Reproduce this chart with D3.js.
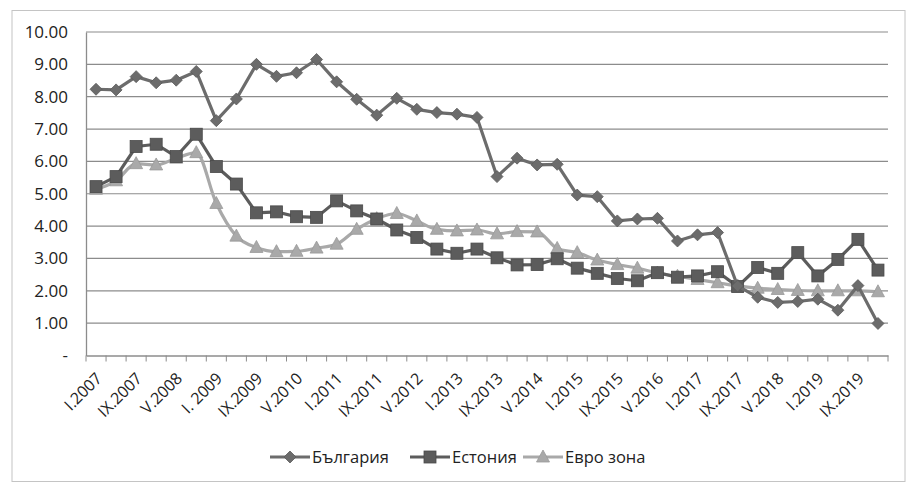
<!DOCTYPE html>
<html>
<head>
<meta charset="utf-8">
<script src="https://cdn.jsdelivr.net/npm/d3@7"></script>
<style>
  body { margin: 0; background: #fff; }
  text { font-family: "Open Sans", "Noto Sans", sans-serif; fill: #222; }
</style>
</head>
<body>
<div id="chart"></div>
<script>
// categories: every 4 months, I.2007 .. I.2020
var months = ["I", "V", "IX"];
var categories = [];
for (var yr = 2007; yr <= 2019; yr++) {
    months.forEach(function(m) { categories.push(m + "." + yr); });
}
categories.push("I.2020");

// the axis shows every second label, as in the original
var tickLabels = {"I.2009": "I. 2009"};

var bulgaria = [8.23, 8.21, 8.62, 8.43, 8.51, 8.78, 7.26, 7.93, 9.0, 8.63,
                8.74, 9.15, 8.46, 7.92, 7.43, 7.95, 7.61, 7.51, 7.46, 7.36,
                5.53, 6.1, 5.89, 5.91, 4.96, 4.91, 4.16, 4.22, 4.24, 3.54,
                3.73, 3.8, 2.15, 1.8, 1.64, 1.67, 1.74, 1.4, 2.16, 0.99];
var estonia = [5.22, 5.53, 6.46, 6.53, 6.15, 6.84, 5.84, 5.3, 4.41, 4.44,
               4.29, 4.27, 4.78, 4.47, 4.22, 3.88, 3.65, 3.29, 3.16, 3.29,
               3.02, 2.8, 2.81, 2.99, 2.7, 2.54, 2.38, 2.31, 2.56, 2.42,
               2.46, 2.59, 2.13, 2.72, 2.54, 3.18, 2.46, 2.97, 3.59, 2.64];
var eurozone = [5.14, 5.4, 5.93, 5.89, 6.1, 6.27, 4.7, 3.69, 3.34, 3.21,
                3.22, 3.32, 3.44, 3.9, 4.23, 4.39, 4.16, 3.9, 3.85, 3.88,
                3.76, 3.83, 3.82, 3.31, 3.18, 2.95, 2.81, 2.7, 2.55, 2.45,
                2.35, 2.25, 2.15, 2.08, 2.04, 2.01, 2.0, 2.0, 2.0, 1.97];
var yTicks = [0, 1, 2, 3, 4, 5, 6, 7, 8, 9, 10];

var series = [
    {name: "България", values: bulgaria, color: "#6c6c6c", marker: "diamond", smooth: false},
    {name: "Естония", values: estonia, color: "#5c5c5c", marker: "square", smooth: false},
    {name: "Евро зона", values: eurozone, color: "#a9a9a9", marker: "triangle", smooth: true}
];

var width = 909, height = 484;
var plotLeft = 86, plotRight = 888, plotTop = 32, plotBottom = 355.5;

var svg = d3.select("#chart").append("svg")
    .attr("width", width)
    .attr("height", height);

svg.append("rect")
    .attr("x", 12).attr("y", 10.5)
    .attr("width", 893).attr("height", 471)
    .attr("fill", "#fff")
    .attr("stroke", "#c4c4c4");

var x = d3.scaleBand().domain(categories).range([plotLeft, plotRight]);
var yScale = d3.scaleLinear().domain([0, 10]).range([plotBottom, plotTop]);
var cx = function(i) { return x(categories[i]) + x.bandwidth() / 2; };

// gridlines
svg.append("g").selectAll("line")
    .data(yTicks.slice(1))
    .enter().append("line")
    .attr("x1", plotLeft).attr("x2", plotRight)
    .attr("y1", function(d) { return yScale(d); })
    .attr("y2", function(d) { return yScale(d); })
    .attr("stroke", "#8c8c8c")
    .attr("stroke-width", 1.2);

// y axis
var yAxis = svg.append("g")
    .attr("transform", "translate(" + plotLeft + ",0)")
    .call(d3.axisLeft(yScale).tickValues(yTicks).tickSize(0).tickPadding(18)
        .tickFormat(function(d) { return d === 0 ? "-" : d3.format(".2f")(d); }));
yAxis.select(".domain").attr("stroke", "#8c8c8c").attr("stroke-width", 1.3);
yAxis.selectAll("text").style("font-size", "17px").attr("fill", "#222");

// x axis
var xAxis = svg.append("g")
    .attr("transform", "translate(0," + plotBottom + ")")
    .call(d3.axisBottom(x).tickSize(0).tickFormat(""));
xAxis.select(".domain").attr("stroke", "#8c8c8c").attr("stroke-width", 1.3);
xAxis.selectAll(".tick").remove();

// tick marks between categories
var boundaries = categories.map(function(c) { return x(c); }).concat([plotRight]);
svg.append("g").selectAll("line")
    .data(boundaries)
    .enter().append("line")
    .attr("x1", function(d) { return d; })
    .attr("x2", function(d) { return d; })
    .attr("y1", plotBottom).attr("y2", plotBottom + 6)
    .attr("stroke", "#8c8c8c");

svg.append("g").selectAll("text")
    .data(categories.filter(function(c, i) { return i % 2 === 0; }))
    .enter().append("text")
    .attr("transform", function(d) {
        return "translate(" + (x(d) + x.bandwidth() / 2 + 3) + "," + (plotBottom + 20) + ") rotate(-45)";
    })
    .attr("text-anchor", "end")
    .attr("dy", "0.35em")
    .style("font-size", "16px")
    .text(function(d) { return tickLabels[d] || d; });

// markers
function drawMarker(g, type, color, px, py) {
    if (type === "diamond") {
        g.append("path")
            .attr("d", "M" + px + "," + (py - 6) + "L" + (px + 6) + "," + py + "L" + px + "," + (py + 6) + "L" + (px - 6) + "," + py + "Z")
            .attr("fill", color).attr("stroke", "#5a5a5a").attr("stroke-width", 0.8);
    } else if (type === "square") {
        g.append("rect")
            .attr("x", px - 6).attr("y", py - 6)
            .attr("width", 12).attr("height", 12)
            .attr("fill", color).attr("stroke", "#4a4a4a").attr("stroke-width", 0.8);
    } else {
        g.append("path")
            .attr("d", "M" + px + "," + (py - 7) + "L" + (px + 6.5) + "," + (py + 5) + "L" + (px - 6.5) + "," + (py + 5) + "Z")
            .attr("fill", color).attr("stroke", "#999").attr("stroke-width", 0.8);
    }
}

// draw order: eurozone first so it sits beneath, as in the picture
[series[2], series[1], series[0]].forEach(function(s) {
    var line = d3.line()
        .x(function(d, i) { return cx(i); })
        .y(function(d) { return yScale(d); })
        .curve(s.smooth ? d3.curveMonotoneX : d3.curveLinear);
    var g = svg.append("g");
    g.append("path")
        .datum(s.values)
        .attr("d", line)
        .attr("fill", "none")
        .attr("stroke", s.color)
        .attr("stroke-width", 3.2)
        .attr("stroke-linejoin", "round");
    s.values.forEach(function(v, i) {
        drawMarker(g, s.marker, s.color, cx(i), yScale(v));
    });
});

// legend
var legendX = [270, 410, 523];
var legend = svg.append("g");
series.forEach(function(s, i) {
    var lx = legendX[i], ly = 457;
    var g = legend.append("g");
    g.append("line")
        .attr("x1", lx).attr("x2", lx + 40)
        .attr("y1", ly).attr("y2", ly)
        .attr("stroke", s.color).attr("stroke-width", 3.2);
    drawMarker(g, s.marker, s.color, lx + 20, ly);
    g.append("text")
        .attr("x", lx + 42).attr("y", ly)
        .attr("dy", "0.35em")
        .style("font-size", "16.5px")
        .text(s.name);
});
</script>
</body>
</html>
